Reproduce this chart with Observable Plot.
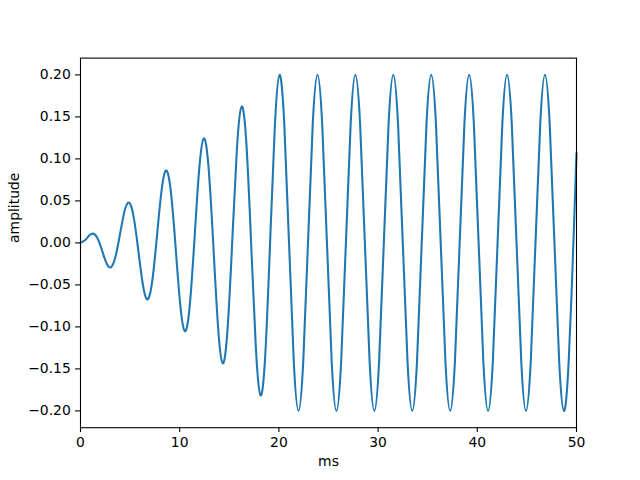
<!DOCTYPE html>
<html>
<head>
<meta charset="utf-8">
<script src="https://cdn.jsdelivr.net/npm/d3@7"></script>
<script src="https://cdn.jsdelivr.net/npm/@observablehq/plot@0.6"></script>
<style>
  html, body { margin: 0; padding: 0; background: white; }
</style>
</head>
<body>
<div id="chart"></div>
<script>
// Time samples (ms) at ~1/8 period steps
const ms = [
  0, 0.478, 0.956, 1.433, 1.911, 2.389, 2.867, 3.344, 3.822, 4.300,
  4.778, 5.255, 5.733, 6.211, 6.689, 7.167, 7.644, 8.122, 8.600, 9.078,
  9.555, 10.033, 10.511, 10.989, 11.466, 11.944, 12.422, 12.900, 13.378, 13.855,
  14.333, 14.811, 15.289, 15.766, 16.244, 16.722, 17.200, 17.677, 18.155, 18.633,
  19.111, 19.589, 20.066, 20.544, 21.022, 21.500, 21.977, 22.455, 22.933, 23.411,
  23.889, 24.366, 24.844, 25.322, 25.800, 26.277, 26.755, 27.233, 27.711, 28.188,
  28.666, 29.144, 29.622, 30.100, 30.577, 31.055, 31.533, 32.011, 32.488, 32.966,
  33.444, 33.922, 34.399, 34.877, 35.355, 35.833, 36.311, 36.788, 37.266, 37.744,
  38.222, 38.699, 39.177, 39.655, 40.133, 40.610, 41.088, 41.566, 42.044, 42.522,
  42.999, 43.477, 43.955, 44.433, 44.910, 45.388, 45.866, 46.344, 46.821, 47.299,
  47.777, 48.255, 48.733, 49.210, 49.688, 50
];
// Amplitude at each sample
const amplitude = [
  0, 0.0034, 0.0096, 0.0101, 0, -0.0169, -0.0287, -0.0236, 0, 0.0304,
  0.0478, 0.0372, 0, -0.0439, -0.0669, -0.0507, 0, 0.0574, 0.0860, 0.0642,
  0, -0.0709, -0.1051, -0.0777, 0, 0.0845, 0.1242, 0.0912, 0, -0.0980,
  -0.1433, -0.1047, 0, 0.1115, 0.1624, 0.1182, 0, -0.1250, -0.1816, -0.1318,
  0, 0.1385, 0.2000, 0.1414, 0, -0.1414, -0.2, -0.1414, 0, 0.1414,
  0.2, 0.1414, 0, -0.1414, -0.2, -0.1414, 0, 0.1414, 0.2, 0.1414,
  0, -0.1414, -0.2, -0.1414, 0, 0.1414, 0.2, 0.1414, 0, -0.1414,
  -0.2, -0.1414, 0, 0.1414, 0.2, 0.1414, 0, -0.1414, -0.2, -0.1414,
  0, 0.1414, 0.2, 0.1414, 0, -0.1414, -0.2, -0.1414, 0, 0.1414,
  0.2, 0.1414, 0, -0.1414, -0.2, -0.1414, 0, 0.1414, 0.2, 0.1414,
  0, -0.1414, -0.2, -0.1414, 0, 0.107
];
const xTicks = [0, 10, 20, 30, 40, 50];
const yTicks = [-0.20, -0.15, -0.10, -0.05, 0.00, 0.05, 0.10, 0.15, 0.20];
const xLabel = "ms";
const yLabel = "amplitude";

const data = ms.map((t, i) => ({ ms: t, amplitude: amplitude[i] }));

const chart = Plot.plot({
  width: 640,
  height: 480,
  marginLeft: 80,
  marginRight: 64,
  marginTop: 57.6,
  marginBottom: 52.8,
  style: { fontFamily: "DejaVu Sans", fontSize: "13.9px", background: "white", color: "black" },
  x: { domain: [0, 50] },
  y: { domain: [-0.22, 0.22] },
  marks: [
    Plot.line(data, { x: "ms", y: "amplitude", stroke: "#1f77b4", strokeWidth: 2.08, curve: "natural" }),
    Plot.frame({ stroke: "black", strokeWidth: 1.1 }),
    Plot.axisX({ ticks: xTicks, tickSize: 4.86, tickPadding: 4.86, label: null, tickFormat: d => String(d), strokeWidth: 1.1 }),
    Plot.axisY({ ticks: yTicks, tickSize: 4.86, tickPadding: 4.86, label: null, tickFormat: d3.format(".2f"), strokeWidth: 1.1 }),
    Plot.text([xLabel], { text: d => d, frameAnchor: "bottom", dy: 34, lineAnchor: "middle", fill: "black" }),
    Plot.text([yLabel], { text: d => d, frameAnchor: "left", dx: -66, rotate: -90, lineAnchor: "middle", fill: "black" })
  ]
});
document.getElementById("chart").appendChild(chart);
</script>
</body>
</html>
